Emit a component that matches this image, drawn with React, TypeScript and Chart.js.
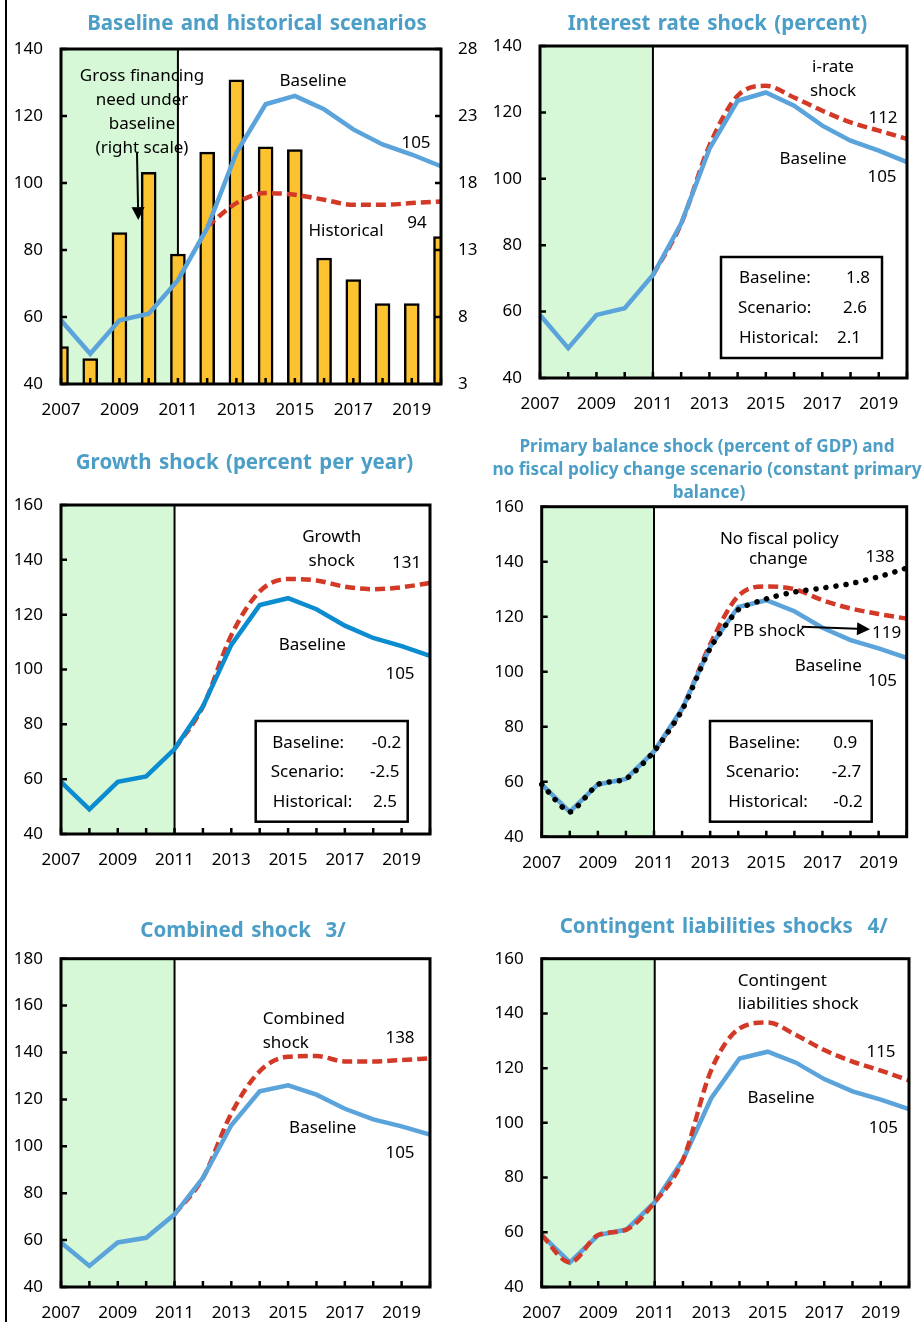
import React, { useEffect, useRef } from "react";
import { Chart, registerables } from "chart.js";

Chart.register(...registerables);

const PAGE_W = 923;
const PAGE_H = 1322;
const FONT = '"Noto Sans", "Open Sans", "DejaVu Sans", sans-serif';

// ---------------- data ----------------
const years = ["2007", "2008", "2009", "2010", "2011", "2012", "2013", "2014", "2015", "2016", "2017", "2018", "2019", "2020"];
const xTickLabels = ["2007", "", "2009", "", "2011", "", "2013", "", "2015", "", "2017", "", "2019", ""];
const shadeFrom = "2007";
const shadeTo = "2011";

const baseline = [59, 49, 59, 61, 71, 86.5, 109, 123.5, 126, 122, 116, 111.5, 108.5, 105];
const grossFinancingNeed = [5.8, 4.9, 14.3, 18.8, 12.7, 20.3, 25.7, 20.7, 20.5, 12.4, 10.8, 9.0, 9.0, 14.0];
const historical = [null, null, null, null, null, 87, 94, 97, 96.5, 95, 93.5, 93.5, 94, 94.5];
const iRateShock = [null, null, null, null, 71, 86.5, 110, 125, 128, 124.5, 120.5, 117, 114.5, 112];
const growthShock = [null, null, null, null, 71, 86.5, 112.5, 128.5, 133, 132.5, 130.2, 129.3, 130, 131.6];
const pbShock = [null, null, null, null, 71, 86.5, 110, 127.5, 131, 130, 126, 123, 121, 119.3];
const noPolicyChange = [59, 49, 59, 61, 71, 86, 108.5, 122.5, 126.5, 129, 130.4, 132, 134.5, 137.7];
const combinedShock = [null, null, null, null, 71, 86.5, 114, 132, 138.2, 138.5, 136.2, 136.2, 136.8, 137.5];
const contingentShock = [59, 49, 59, 61, 71, 86.5, 119.3, 134.5, 136.7, 132.1, 126.6, 122.4, 119.1, 115.5];

// ---------------- styles ----------------
const BLUE = "#5BA3DB";
const BLUE_DARK = "#0B8BD0";
const RED = "#D23A27";
const BAR_FILL = "#FDC230";
const SHADE = "#D6F8D6";
const TITLE = "#4C9EC6";

type Txt = { t: string; x: number; y: number; align?: CanvasTextAlign; bold?: boolean; size?: number; color?: string; ws?: number };
type Arrow = { x1: number; y1: number; x2: number; y2: number };
type Box = { x: number; y: number; w: number; h: number; rows: Txt[] };
type Panel = {
  plot: { l: number; r: number; t: number; b: number };
  y: { min: number; max: number; step: number };
  y2?: { min: number; max: number; step: number };
  type: "line" | "bar";
  datasets: any[];
  texts: Txt[];
  arrows: Arrow[];
  box?: Box;
};

const baseDs = (color: string) => ({
  type: "line",
  label: "Baseline",
  data: baseline,
  borderColor: color,
  borderWidth: 4.5,
  pointRadius: 0,
  tension: 0,
  yAxisID: "y",
  order: 0,
});
const shockDs = (label: string, data: (number | null)[]) => ({
  type: "line",
  label,
  data,
  borderColor: RED,
  borderWidth: 4.5,
  borderDash: [10, 5],
  pointRadius: 0,
  tension: 0.4,
  cubicInterpolationMode: "monotone",
  yAxisID: "y",
  order: 0,
});

const title = (t: string, x: number, y: number, size = 20.5, ws = 2): Txt => ({ t, x, y, bold: true, size, color: TITLE, ws });
const lbl = (t: string, x: number, y: number, align: CanvasTextAlign = "center"): Txt => ({ t, x, y, align });

const panels: Panel[] = [
  {
    plot: { l: 61, r: 441, t: 49, b: 384 },
    y: { min: 40, max: 140, step: 20 },
    y2: { min: 3, max: 28, step: 5 },
    type: "bar",
    datasets: [
      baseDs(BLUE),
      shockDs("Historical", historical),
      {
        type: "bar",
        label: "Gross financing need under baseline",
        data: grossFinancingNeed,
        backgroundColor: BAR_FILL,
        borderColor: "#000",
        borderWidth: 2.5,
        barThickness: 15,
        yAxisID: "y2",
        order: 1,
        clip: 0,
      },
    ],
    texts: [
      title("Baseline and historical scenarios", 257, 24),
      lbl("Gross financing", 142, 76),
      lbl("need under", 142, 100),
      lbl("baseline", 142, 124),
      lbl("(right scale)", 142, 148),
      lbl("Baseline", 313, 81),
      lbl("105", 416, 143),
      lbl("Historical", 346, 231),
      lbl("94", 417, 223),
    ],
    arrows: [{ x1: 137, y1: 153, x2: 138.3, y2: 220 }],
  },
  {
    plot: { l: 540, r: 907, t: 46, b: 378 },
    y: { min: 40, max: 140, step: 20 },
    type: "line",
    datasets: [baseDs(BLUE), shockDs("i-rate shock", iRateShock)],
    texts: [
      title("Interest rate shock (percent)", 717.5, 24),
      lbl("i-rate", 833, 67),
      lbl("shock", 833, 91),
      lbl("112", 883, 118),
      lbl("Baseline", 813, 159),
      lbl("105", 882, 177),
    ],
    arrows: [],
    box: {
      x: 721, y: 257, w: 161, h: 101,
      rows: [
        lbl("Baseline:", 739, 278, "left"), lbl("1.8", 846, 278, "left"),
        lbl("Scenario:", 738, 308, "left"), lbl("2.6", 843, 308, "left"),
        lbl("Historical:", 739, 338, "left"), lbl("2.1", 837, 338, "left"),
      ],
    },
  },
  {
    plot: { l: 61, r: 430, t: 505, b: 834 },
    y: { min: 40, max: 160, step: 20 },
    type: "line",
    datasets: [baseDs(BLUE_DARK), shockDs("Growth shock", growthShock)],
    texts: [
      title("Growth shock (percent per year)", 244.5, 463),
      lbl("Growth", 331.7, 537),
      lbl("shock", 331.7, 561),
      lbl("131", 406.7, 563),
      lbl("Baseline", 312.3, 645),
      lbl("105", 400, 674),
    ],
    arrows: [],
    box: {
      x: 255.7, y: 721, w: 152, h: 100.7,
      rows: [
        lbl("Baseline:", 272.3, 742.7, "left"), lbl("-0.2", 371.7, 742.7, "left"),
        lbl("Scenario:", 270.7, 771.7, "left"), lbl("-2.5", 370, 771.7, "left"),
        lbl("Historical:", 272.7, 802.3, "left"), lbl("2.5", 373, 802.3, "left"),
      ],
    },
  },
  {
    plot: { l: 541.7, r: 906.7, t: 506.7, b: 836.7 },
    y: { min: 40, max: 160, step: 20 },
    type: "line",
    datasets: [
      {
        type: "line",
        label: "No fiscal policy change",
        data: noPolicyChange,
        borderColor: "#000",
        borderWidth: 5.5,
        borderDash: [0.1, 10],
        borderCapStyle: "round",
        pointRadius: 0,
        tension: 0.2,
        yAxisID: "y",
        order: 0,
      },
      baseDs(BLUE),
      shockDs("PB shock", pbShock),
    ],
    texts: [
      title("Primary balance shock (percent of GDP) and", 707, 446.7, 17.2, 0),
      title("no fiscal policy change scenario (constant primary", 707, 470, 17.2, 0),
      title("balance)", 709, 493.3, 17.2, 0),
      lbl("No fiscal policy", 779.3, 539),
      lbl("change", 778.3, 559),
      lbl("138", 880, 556.7),
      lbl("PB shock", 769, 631),
      lbl("119", 886.7, 632.7),
      lbl("Baseline", 828.3, 666),
      lbl("105", 882.3, 680.7),
    ],
    arrows: [{ x1: 801.7, y1: 626.7, x2: 870, y2: 629.3 }],
    box: {
      x: 710, y: 721, w: 161.7, h: 100.7,
      rows: [
        lbl("Baseline:", 728.3, 742.7, "left"), lbl("0.9", 833.3, 742.7, "left"),
        lbl("Scenario:", 726, 771.7, "left"), lbl("-2.7", 831.7, 771.7, "left"),
        lbl("Historical:", 728.3, 802.3, "left"), lbl("-0.2", 833.3, 802.3, "left"),
      ],
    },
  },
  {
    plot: { l: 61, r: 430, t: 958.7, b: 1287 },
    y: { min: 40, max: 180, step: 20 },
    type: "line",
    datasets: [baseDs(BLUE), shockDs("Combined shock", combinedShock)],
    texts: [
      title("Combined shock  3/", 243, 931),
      lbl("Combined", 262.7, 1019.3, "left"),
      lbl("shock", 262.7, 1043.3, "left"),
      lbl("138", 400, 1037.7),
      lbl("Baseline", 322.7, 1128.3),
      lbl("105", 400, 1152.7),
    ],
    arrows: [],
  },
  {
    plot: { l: 541.7, r: 909, t: 958.7, b: 1287 },
    y: { min: 40, max: 160, step: 20 },
    type: "line",
    datasets: [shockDs("Contingent liabilities shock", contingentShock), baseDs(BLUE)],
    texts: [
      title("Contingent liabilities shocks  4/", 723.7, 926.7),
      lbl("Contingent", 737.7, 981, "left"),
      lbl("liabilities shock", 737.7, 1004, "left"),
      lbl("115", 881, 1051.7),
      lbl("Baseline", 781, 1098.3),
      lbl("105", 883.3, 1127.7),
    ],
    arrows: [],
  },
];

const Y_W = 50;
const Y2_W = 40;
const X_H = 40;
const TICK_LEN = 6;

function drawText(ctx: CanvasRenderingContext2D, t: Txt) {
  const size = t.size ?? 17;
  ctx.font = `${t.bold ? "bold " : ""}${size}px ${FONT}`;
  ctx.fillStyle = t.color ?? "#000";
  ctx.textAlign = t.align ?? "center";
  ctx.textBaseline = "middle";
  (ctx as any).wordSpacing = `${t.ws ?? 0}px`;
  ctx.fillText(t.t, t.x, t.y);
  (ctx as any).wordSpacing = "0px";
}

function drawArrow(ctx: CanvasRenderingContext2D, a: Arrow) {
  const ang = Math.atan2(a.y2 - a.y1, a.x2 - a.x1);
  const head = 13;
  const half = 6.5;
  const bx = a.x2 - head * Math.cos(ang);
  const by = a.y2 - head * Math.sin(ang);
  ctx.strokeStyle = "#000";
  ctx.fillStyle = "#000";
  ctx.lineWidth = 2;
  ctx.beginPath();
  ctx.moveTo(a.x1, a.y1);
  ctx.lineTo(bx, by);
  ctx.stroke();
  ctx.beginPath();
  ctx.moveTo(a.x2, a.y2);
  ctx.lineTo(bx + half * Math.sin(ang), by - half * Math.cos(ang));
  ctx.lineTo(bx - half * Math.sin(ang), by + half * Math.cos(ang));
  ctx.closePath();
  ctx.fill();
}

function makeDecor(p: Panel) {
  return {
    id: "panelDecor",
    beforeDatasetsDraw(chart: any) {
      const { ctx, chartArea: a, scales } = chart;
      const x0 = scales.x.getPixelForValue(years.indexOf(shadeFrom));
      const x1 = scales.x.getPixelForValue(years.indexOf(shadeTo));
      ctx.save();
      ctx.fillStyle = SHADE;
      ctx.fillRect(x0, a.top, x1 - x0, a.bottom - a.top);
      ctx.strokeStyle = "#000";
      ctx.lineWidth = 2;
      ctx.beginPath();
      ctx.moveTo(x1, a.top);
      ctx.lineTo(x1, a.bottom);
      ctx.stroke();
      ctx.restore();
    },
    afterDatasetsDraw(chart: any) {
      const { ctx, chartArea: a, scales } = chart;
      ctx.save();
      ctx.strokeStyle = "#000";
      ctx.lineWidth = 2.5;
      ctx.beginPath();
      years.forEach((_, i) => {
        const px = scales.x.getPixelForValue(i);
        ctx.moveTo(px, a.bottom);
        ctx.lineTo(px, a.bottom - TICK_LEN);
      });
      scales.y.ticks.forEach((tk: any) => {
        const py = scales.y.getPixelForValue(tk.value);
        ctx.moveTo(a.left, py);
        ctx.lineTo(a.left + TICK_LEN, py);
      });
      if (scales.y2) {
        scales.y2.ticks.forEach((tk: any) => {
          const py = scales.y2.getPixelForValue(tk.value);
          ctx.moveTo(a.right, py);
          ctx.lineTo(a.right - TICK_LEN, py);
        });
      }
      ctx.stroke();
      ctx.lineWidth = 3;
      ctx.strokeRect(a.left, a.top, a.right - a.left, a.bottom - a.top);
      ctx.restore();
    },
    afterDraw(chart: any) {
      const { ctx } = chart;
      ctx.save();
      if (p.box) {
        const b = p.box;
        ctx.fillStyle = "#fff";
        ctx.fillRect(b.x, b.y, b.w, b.h);
        ctx.strokeStyle = "#000";
        ctx.lineWidth = 2.5;
        ctx.strokeRect(b.x, b.y, b.w, b.h);
        b.rows.forEach((r) => drawText(ctx, r));
      }
      p.texts.forEach((t) => drawText(ctx, t));
      p.arrows.forEach((ar) => drawArrow(ctx, ar));
      ctx.restore();
    },
  };
}

function PanelChart({ p }: { p: Panel }) {
  const ref = useRef<HTMLCanvasElement | null>(null);
  useEffect(() => {
    if (!ref.current) return;
    const tickFont = { family: FONT, size: 17 };
    const scales: any = {
      x: {
        type: "category",
        offset: false,
        grid: { display: false, drawTicks: false },
        border: { display: false },
        ticks: {
          autoSkip: false,
          maxRotation: 0,
          padding: 16,
          color: "#000",
          font: tickFont,
          callback: (_v: any, i: number) => xTickLabels[i] || null,
        },
        afterFit: (s: any) => {
          s.height = X_H;
        },
      },
      y: {
        position: "left",
        min: p.y.min,
        max: p.y.max,
        grid: { display: false, drawTicks: false },
        border: { display: false },
        ticks: { stepSize: p.y.step, padding: 18, color: "#000", font: tickFont },
        afterFit: (s: any) => {
          s.width = Y_W;
        },
      },
    };
    if (p.y2) {
      scales.y2 = {
        position: "right",
        min: p.y2.min,
        max: p.y2.max,
        grid: { display: false, drawTicks: false },
        border: { display: false },
        ticks: { stepSize: p.y2.step, padding: 17, color: "#000", font: tickFont },
        afterFit: (s: any) => {
          s.width = Y2_W;
        },
      };
    }
    const rightW = p.y2 ? Y2_W : 0;
    const chart = new Chart(ref.current, {
      type: p.type as any,
      data: { labels: years, datasets: p.datasets as any },
      options: {
        responsive: false,
        animation: false,
        events: [],
        layout: {
          padding: {
            left: p.plot.l - Y_W,
            right: PAGE_W - p.plot.r - rightW,
            top: p.plot.t,
            bottom: PAGE_H - p.plot.b - X_H,
          },
        },
        plugins: { legend: { display: false }, tooltip: { enabled: false }, title: { display: false } },
        scales,
      },
      plugins: [makeDecor(p)],
    });
    return () => chart.destroy();
  }, [p]);
  return (
    <canvas
      ref={ref}
      width={PAGE_W}
      height={PAGE_H}
      style={{ position: "absolute", left: 0, top: 0, width: PAGE_W, height: PAGE_H }}
    />
  );
}

export default function App() {
  return (
    <div
      style={{
        position: "absolute",
        left: 0,
        top: 0,
        width: PAGE_W,
        height: PAGE_H,
        background: "#fff",
        overflow: "hidden",
      }}
    >
      <div style={{ position: "absolute", left: 5, top: 0, width: 2, height: PAGE_H, background: "#000" }} />
      {panels.map((p, i) => (
        <PanelChart key={i} p={p} />
      ))}
    </div>
  );
}
